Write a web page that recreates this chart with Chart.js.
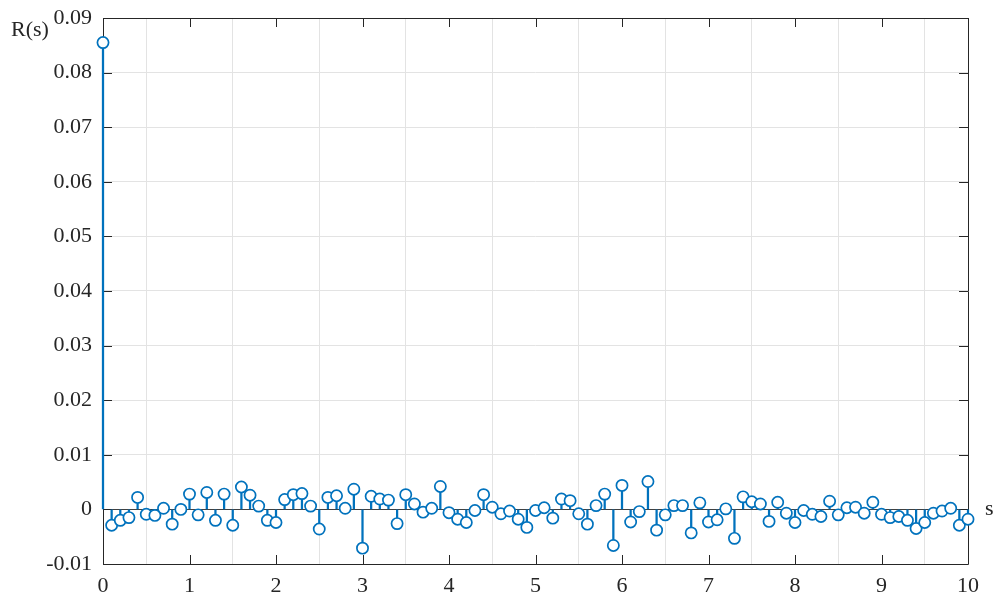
<!DOCTYPE html>
<html>
<head>
<meta charset="utf-8">
<script src="https://cdn.jsdelivr.net/npm/chart.js@4.4.1/dist/chart.umd.min.js"></script>
<style>
html,body{margin:0;padding:0;background:#fff;}
#wrap{width:996px;height:599px;position:relative;}
</style>
</head>
<body>
<div id="wrap"><canvas id="c" width="996" height="599"></canvas></div>
<script>
const lags = [0,0.1,0.2,0.3,0.4,0.5,0.6,0.7,0.8,0.9,
1,1.1,1.2,1.3,1.4,1.5,1.6,1.7,1.8,1.9,
2,2.1,2.2,2.3,2.4,2.5,2.6,2.7,2.8,2.9,
3,3.1,3.2,3.3,3.4,3.5,3.6,3.7,3.8,3.9,
4,4.1,4.2,4.3,4.4,4.5,4.6,4.7,4.8,4.9,
5,5.1,5.2,5.3,5.4,5.5,5.6,5.7,5.8,5.9,
6,6.1,6.2,6.3,6.4,6.5,6.6,6.7,6.8,6.9,
7,7.1,7.2,7.3,7.4,7.5,7.6,7.7,7.8,7.9,
8,8.1,8.2,8.3,8.4,8.5,8.6,8.7,8.8,8.9,
9,9.1,9.2,9.3,9.4,9.5,9.6,9.7,9.8,9.9,10];

const R = [0.0855,-0.0029,-0.0020,-0.0015,0.0022,-0.0009,-0.0011,0.0002,-0.0027,0.0000,
0.0028,-0.0010,0.0031,-0.0020,0.0028,-0.0029,0.0041,0.0026,0.0006,-0.0020,
-0.0024,0.0018,0.0027,0.0029,0.0006,-0.0036,0.0022,0.0025,0.0002,0.0037,
-0.0071,0.0024,0.0019,0.0017,-0.0026,0.0027,0.0010,-0.0005,0.0002,0.0042,
-0.0006,-0.0018,-0.0024,-0.0002,0.0027,0.0004,-0.0008,-0.0003,-0.0018,-0.0033,
-0.0002,0.0003,-0.0016,0.0019,0.0016,-0.0008,-0.0027,0.0007,0.0028,-0.0066,
0.0044,-0.0023,-0.0004,0.0051,-0.0038,-0.0010,0.0007,0.0007,-0.0043,0.0012,
-0.0023,-0.0019,0.0001,-0.0053,0.0023,0.0014,0.0010,-0.0022,0.0013,-0.0007,
-0.0024,-0.0002,-0.0009,-0.0013,0.0015,-0.0010,0.0003,0.0004,-0.0007,0.0013,
-0.0009,-0.0015,-0.0013,-0.0020,-0.0035,-0.0024,-0.0007,-0.0003,0.0002,-0.0029,-0.0018];

const xTicks = [0,1,2,3,4,5,6,7,8,9,10];
const yTicks = [-0.01,0,0.01,0.02,0.03,0.04,0.05,0.06,0.07,0.08,0.09];
const yLabel = 'R(s)';
const xLabel = 's';

const points = lags.map((x,i)=>({x:x, y:R[i]}));
const FONT = '"Liberation Serif","Times New Roman",serif';
const TXT = '#262626';
const BLUE = '#0072BD';

const framePlugin = {
  id:'frame',
  beforeDatasetsDraw(chart){
    const {ctx, chartArea:a, scales} = chart;
    ctx.save();
    ctx.strokeStyle = TXT;
    ctx.lineWidth = 1;
    ctx.beginPath();
    ctx.rect(Math.round(a.left)+0.5, Math.round(a.top)+0.5, Math.round(a.right-a.left), Math.round(a.bottom-a.top));
    ctx.stroke();
    const L = 9;
    ctx.beginPath();
    xTicks.forEach(v=>{
      const px = Math.round(scales.x.getPixelForValue(v))+0.5;
      ctx.moveTo(px, a.bottom); ctx.lineTo(px, a.bottom-L);
      ctx.moveTo(px, a.top); ctx.lineTo(px, a.top+L);
    });
    yTicks.forEach(v=>{
      const py = Math.round(scales.y.getPixelForValue(v))+0.5;
      ctx.moveTo(a.left, py); ctx.lineTo(a.left+L, py);
      ctx.moveTo(a.right, py); ctx.lineTo(a.right-L, py);
    });
    ctx.stroke();
    ctx.restore();
  },
  afterDraw(chart){
    const {ctx, chartArea:a, scales} = chart;
    ctx.save();
    ctx.fillStyle = TXT;
    ctx.font = '22px ' + FONT;
    ctx.textAlign = 'left';
    ctx.textBaseline = 'alphabetic';
    ctx.fillText(yLabel, 11, 36);
    ctx.textBaseline = 'middle';
    ctx.fillText(xLabel, 985, scales.y.getPixelForValue(0));
    ctx.restore();
  }
};

new Chart(document.getElementById('c'), {
  type:'bar',
  data:{
    datasets:[
      {
        type:'scatter',
        data:points,
        showLine:false,
        pointStyle:'circle',
        pointRadius:5.6,
        pointHoverRadius:5.6,
        pointBorderWidth:1.7,
        pointBorderColor:BLUE,
        pointBackgroundColor:'#ffffff',
        clip:false,
        order:0
      },
      {
        type:'bar',
        data:points,
        backgroundColor:BLUE,
        borderWidth:0,
        barThickness:1.6,
        clip:false,
        order:1
      }
    ]
  },
  plugins:[framePlugin],
  options:{
    responsive:false,
    animation:false,
    events:[],
    layout:{padding:{top:18,right:28,left:0,bottom:0}},
    plugins:{legend:{display:false},tooltip:{enabled:false},title:{display:false}},
    scales:{
      x:{
        type:'linear',
        min:0,max:10,
        offset:false,
        afterFit(s){ s.height = 35; s.paddingLeft = 0; s.paddingRight = 0; },
        afterBuildTicks(s){ s.ticks = xTicks.map(v=>({value:v})); },
        border:{display:false},
        grid:{color:'#e3e3e3',lineWidth:1,drawTicks:false},
        ticks:{padding:9,color:TXT,font:{family:FONT,size:22},maxRotation:0,
          callback:(v)=>String(v)}
      },
      y:{
        type:'linear',
        min:-0.01,max:0.09,
        afterFit(s){ s.width = 103; s.paddingTop = 0; s.paddingBottom = 0; },
        afterBuildTicks(s){ s.ticks = yTicks.map(v=>({value:v})); },
        border:{display:false},
        grid:{
          color:(c)=> (c.tick && Math.abs(c.tick.value)<1e-9) ? '#404040' : '#e3e3e3',
          lineWidth:1,drawTicks:false},
        ticks:{padding:11,color:TXT,font:{family:FONT,size:22},
          callback:(v)=>{ const n = Number(Number(v).toFixed(2)); return n===0?'0':String(n); }}
      }
    }
  }
});
</script>
</body>
</html>
